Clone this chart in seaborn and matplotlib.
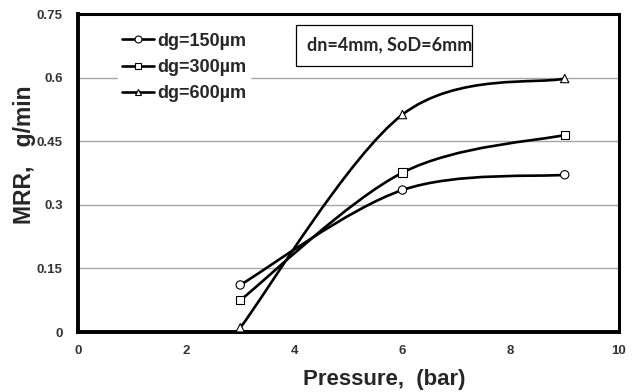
import numpy as np
import pandas as pd
import matplotlib
matplotlib.use("Agg")
import matplotlib.pyplot as plt
from matplotlib.path import Path
from matplotlib.patches import PathPatch, Rectangle
from matplotlib.lines import Line2D
import seaborn as sns

# ---- data ----
pressure = [3, 6, 9]
mrr_150 = [0.111, 0.335, 0.371]
mrr_300 = [0.075, 0.376, 0.465]
mrr_600 = [0.010, 0.513, 0.598]
series_labels = ["dg=150\u00b5m", "dg=300\u00b5m", "dg=600\u00b5m"]
series_markers = ["o", "s", "^"]
x_ticks = [0, 2, 4, 6, 8, 10]
y_ticks = [0, 0.15, 0.3, 0.45, 0.6, 0.75]
y_tick_labels = ["0", "0.15", "0.3", "0.45", "0.6", "0.75"]

sns.set_style("white")
plt.rcParams["font.family"] = ["Liberation Sans", "DejaVu Sans"]

rows = []
for lab, vals in zip(series_labels, [mrr_150, mrr_300, mrr_600]):
    for p, v in zip(pressure, vals):
        rows.append({"Pressure": p, "MRR": v, "series": lab})
df = pd.DataFrame(rows)

fig = plt.figure(figsize=(6.34, 3.92), dpi=100)
ax = fig.add_axes([0.123, 0.153, 0.853, 0.811])

ax.set_xlim(0, 10)
ax.set_ylim(0, 0.75)
for yv in y_ticks[1:-1]:
    ax.axhline(yv, color="#a6a6a6", lw=1.0, zorder=0)


def smooth_path(xs, ys):
    # Excel-like smoothed line as cubic Bezier segments through the data points
    pts = np.column_stack([xs, ys]).astype(float)
    n = len(pts)
    verts = [tuple(pts[0])]
    codes = [Path.MOVETO]
    for i in range(n - 1):
        p0 = pts[i - 1] if i > 0 else pts[i]
        p1 = pts[i]
        p2 = pts[i + 1]
        p3 = pts[i + 2] if i + 2 < n else pts[i + 1]
        c1 = p1 + (p2 - p0) / 6.0
        c2 = p2 - (p3 - p1) / 6.0
        verts += [tuple(c1), tuple(c2), tuple(p2)]
        codes += [Path.CURVE4] * 3
    return Path(verts, codes)


for lab, vals in zip(series_labels, [mrr_150, mrr_300, mrr_600]):
    patch = PathPatch(smooth_path(pressure, vals), facecolor="none",
                      edgecolor="black", lw=1.9, zorder=2)
    ax.add_patch(patch)

sns.scatterplot(data=df, x="Pressure", y="MRR", style="series",
                markers=dict(zip(series_labels, series_markers)),
                color="white", edgecolor="black", linewidth=0.8,
                s=36, ax=ax, legend=False, zorder=3)

handles = [Line2D([], [], color="black", lw=1.9, marker=m, markersize=5,
                  markerfacecolor="white", markeredgecolor="black",
                  markeredgewidth=0.8) for m in series_markers]
leg = ax.legend(handles, series_labels, loc="upper left",
                bbox_to_anchor=(0.074, 0.953), borderaxespad=0,
                frameon=True, framealpha=1,
                edgecolor="white", fancybox=False, handlelength=1.8,
                handletextpad=0.15, labelspacing=0.52, borderpad=0.2,
                prop={"weight": "bold", "size": 13})

ax.add_patch(Rectangle((0.403, 0.836), 0.325, 0.129, transform=ax.transAxes,
                       facecolor="white", edgecolor="black", lw=0.9, zorder=4))
ax.text(0.423, 0.903, "dn=4mm, SoD=6mm", transform=ax.transAxes,
        fontsize=13, fontweight="bold", family=["Lato", "DejaVu Sans"],
        va="center", ha="left", zorder=5)

ax.set_xticks(x_ticks)
ax.set_xticklabels([str(t) for t in x_ticks])
ax.set_yticks(y_ticks)
ax.set_yticklabels(y_tick_labels)
ax.tick_params(axis="x", direction="in", length=3, width=1, colors="black",
               labelcolor="#333333", labelsize=9.5, pad=9)
ax.tick_params(axis="y", direction="in", length=0, colors="black",
               labelcolor="#333333", labelsize=9.5, pad=11)
for t in ax.get_xticklabels() + ax.get_yticklabels():
    t.set_fontweight("bold")

for name, s in ax.spines.items():
    s.set_visible(True)
    s.set_color("black")
    s.set_linewidth(2.8 if name in ("left", "bottom") else 2.2)

ax.set_xlabel("Pressure,  (bar)", fontsize=16, fontweight="bold")
ax.set_ylabel("MRR,   g/min", fontsize=16.5, fontweight="bold")
ax.xaxis.set_label_coords(0.567, -0.115)
ax.yaxis.set_label_coords(-0.078, 0.557)

fig.savefig("out.png", dpi=100)
